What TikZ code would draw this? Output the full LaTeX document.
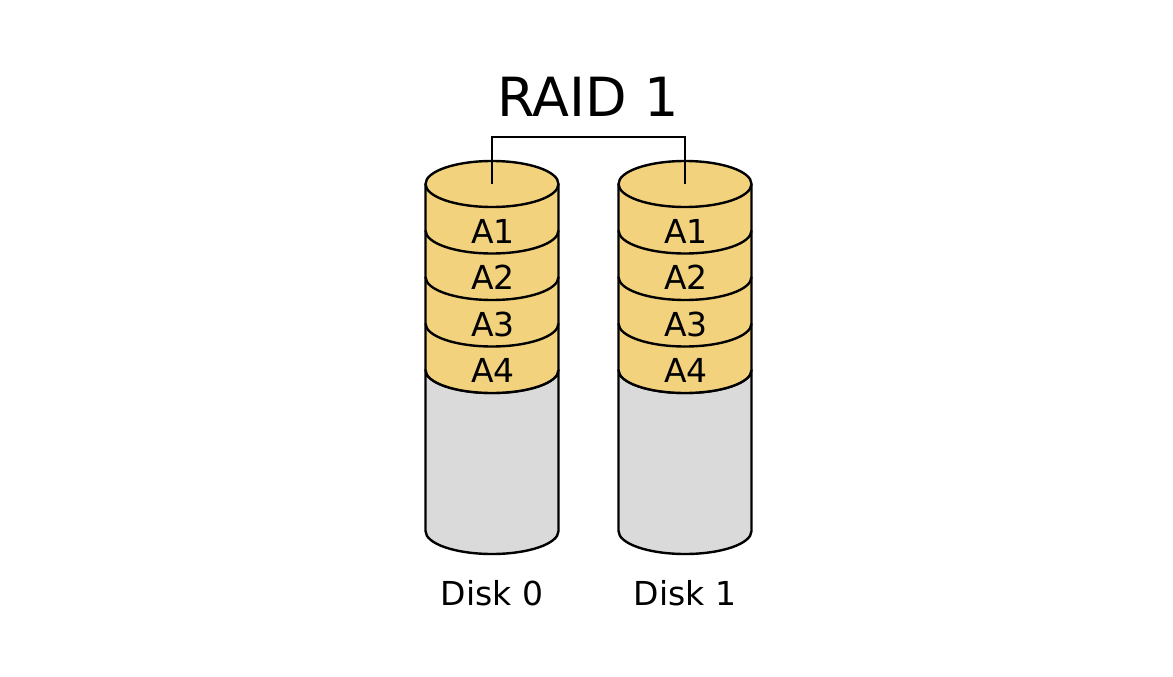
\documentclass[tikz,border=0pt]{standalone}
\usepackage{fontspec}
\setmainfont{DejaVu Sans}
\definecolor{datafill}{HTML}{F3D27E}
\definecolor{freefill}{HTML}{DADADA}
\begin{document}
\begin{tikzpicture}[x=0.75pt,y=-0.75pt,line width=1.8pt,
    body/.style={draw=black,line join=round},
    title/.style={anchor=base,font=\fontsize{40.5}{48}\selectfont},
    block/.style={anchor=base,font=\fontsize{24.75}{30}\selectfont},
    disklabel/.style={anchor=base,font=\fontsize{24.75}{30}\selectfont}]
  \useasboundingbox (0,0) rectangle (1173,677);
  \node[title] (raid) at (588,116.7) {RAID 1};
  \foreach \d/\cx in {0/492,1/685} {
    % free space below the data
    \filldraw[body,fill=freefill] (\cx-66.5,370) -- (\cx-66.5,531)
      arc[start angle=180,end angle=0,x radius=66.5,y radius=23]
      -- (\cx+66.5,370)
      arc[start angle=0,end angle=180,x radius=66.5,y radius=23] -- cycle;
    % data part
    \filldraw[body,fill=datafill] (\cx-66.5,184)
      arc[start angle=180,end angle=360,x radius=66.5,y radius=23]
      -- (\cx+66.5,370)
      arc[start angle=0,end angle=180,x radius=66.5,y radius=23] -- cycle;
    \foreach \k in {0,1,2,3}
      \draw (\cx+66.5,184+46.5*\k)
        arc[start angle=0,end angle=180,x radius=66.5,y radius=23];
    \foreach \k in {1,2,3,4}
      \node[block] (a\k-\d) at (\cx+1,243.3+46.5*\k-46.5) {A\k};
    \coordinate (top\d) at (\cx,184);
    \node[disklabel] (disk\d) at (\cx,605) {Disk \d};
  }
  \draw (top0) -- ++(0,-47) -| (top1);
\end{tikzpicture}
\end{document}
